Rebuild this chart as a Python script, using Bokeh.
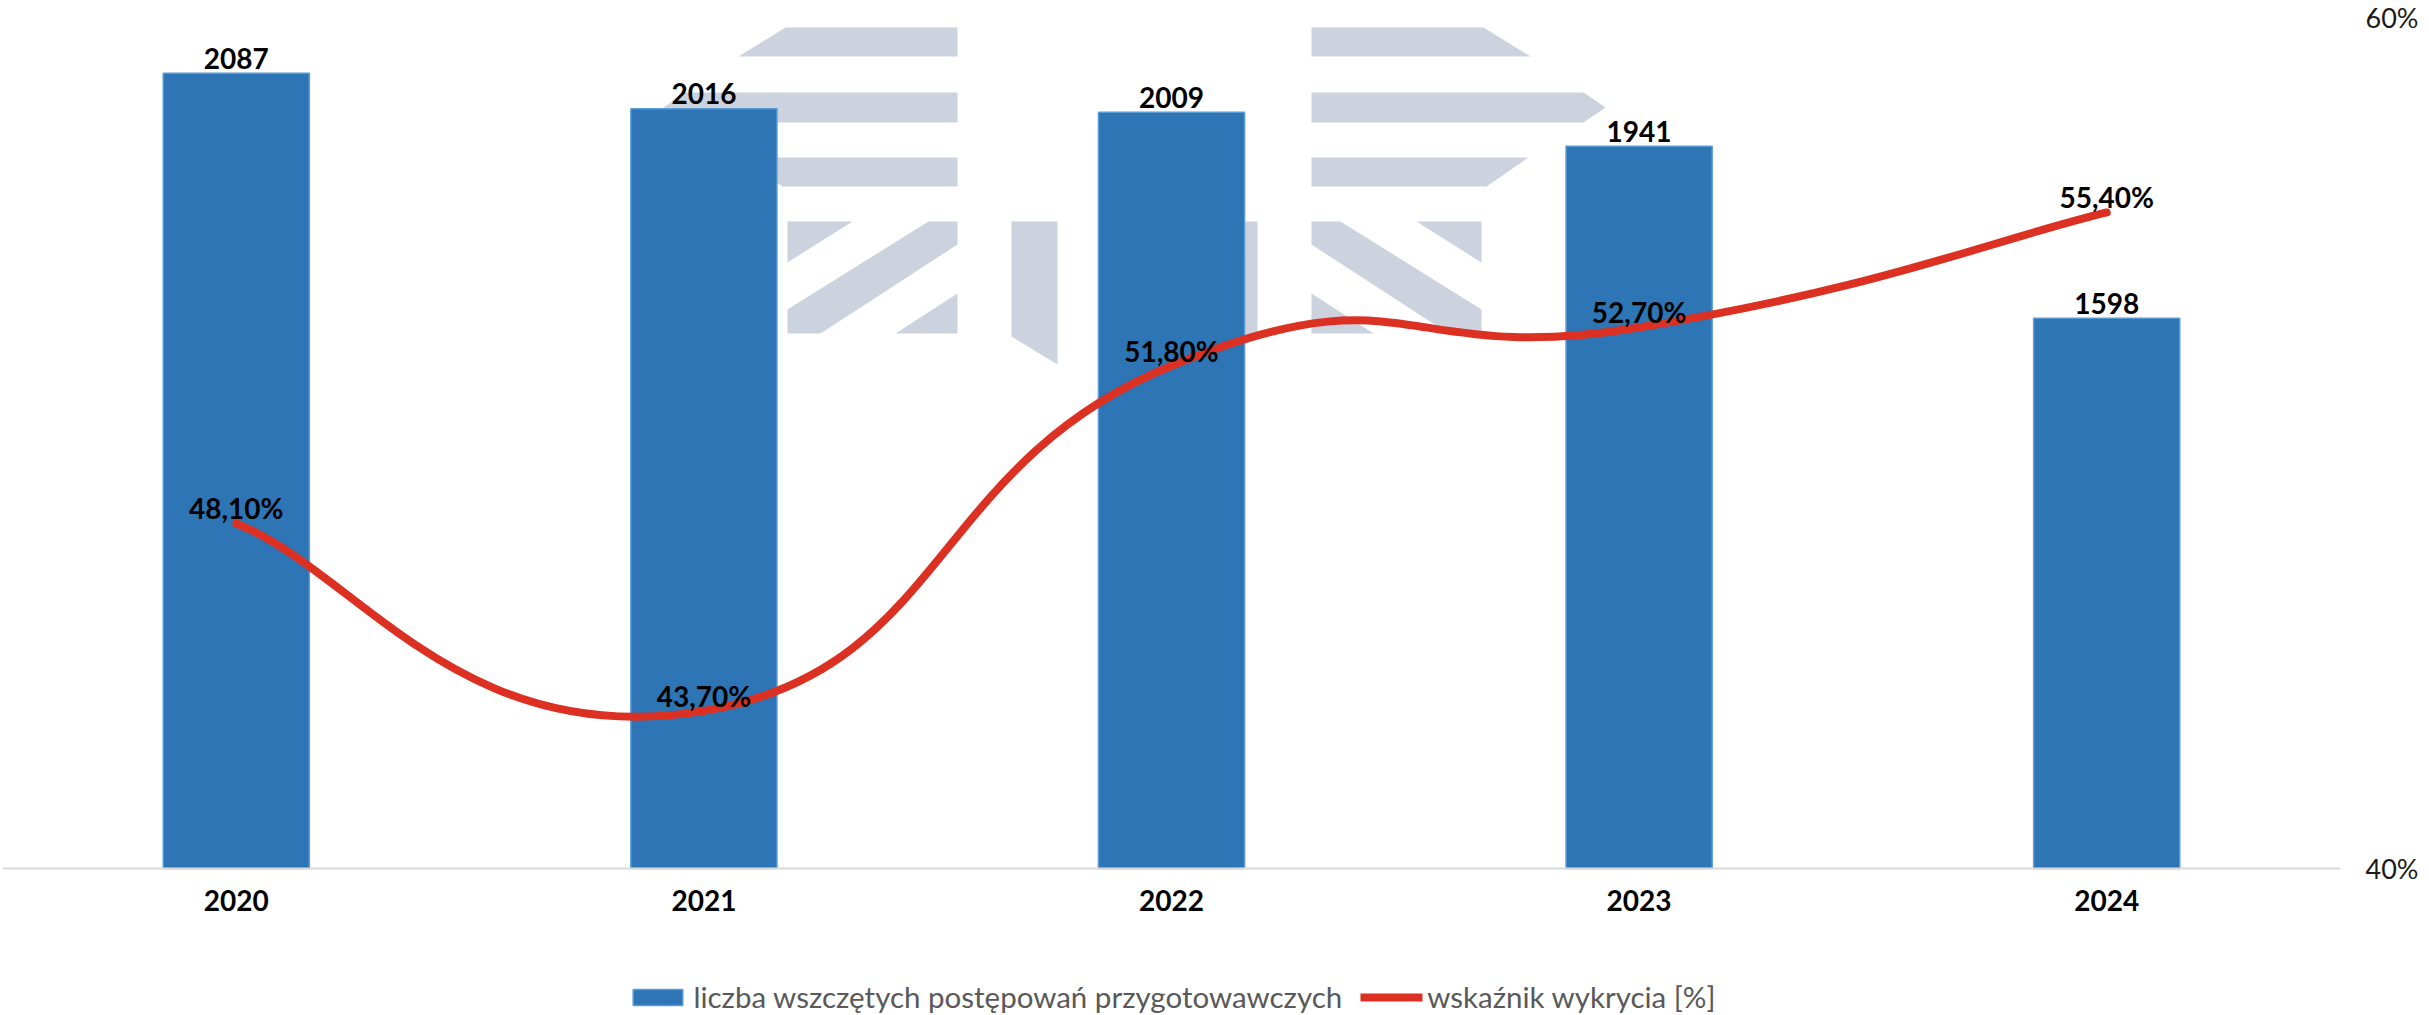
from bokeh.plotting import figure
from bokeh.models import (Range1d, LinearAxis, FixedTicker, Legend, LegendItem,
                          PolyAnnotation, ColumnDataSource, Span)
from bokeh.core.properties import value
from bokeh.embed import file_html
from bokeh.resources import INLINE

# ---- data -------------------------------------------------------------
years = ["2020", "2021", "2022", "2023", "2024"]
cases = [2087, 2016, 2009, 1941, 1598]          # liczba wszczętych postępowań
rate = [48.1, 43.7, 51.8, 52.7, 55.4]           # wskaźnik wykrycia [%]
count_axis = [500, 2200]                        # hidden left axis (bars)
pct_ticks = [40, 60]                            # right axis
pct_tick_labels = ["40%", "60%"]

BAR_LABEL = "liczba wszczętych postępowań przygotowawczych"
LINE_LABEL = "wskaźnik wykrycia [%]"

# ---- style / layout ------------------------------------------------------
BLUE = "#2e75b6"
BLUE_EDGE = "#5b9bd5"
RED = "#dc3023"
WM = "#ccd2de"
FONT = "Lato"
PLOT_H = 852      # px between baseline and top of value area
BELOW = 146       # px of frame kept below the baseline for year labels + legend
TOP = 16

xpos = [i + 0.5 for i in range(len(years))]
src = ColumnDataSource(dict(
    x=xpos, year=years, cases=cases, rate=rate,
    cases_lbl=[str(c) for c in cases],
    rate_lbl=[f"{r:.2f}".replace(".", ",") + "%" for r in rate],
))

c0, c1 = count_axis
r0, r1 = pct_ticks
p = figure(frame_width=2338, frame_height=PLOT_H + BELOW,
           x_range=Range1d(0, len(years)),
           y_range=Range1d(c0 - BELOW * (c1 - c0) / PLOT_H, c1),
           x_axis_location=None, y_axis_location=None,
           output_backend="svg", toolbar_location=None,
           min_border_left=2, min_border_top=TOP, min_border_bottom=0,
           min_border_right=73, background_fill_color="white",
           border_fill_color="white")
p.extra_y_ranges = {"pct": Range1d(r0 - BELOW * (r1 - r0) / PLOT_H, r1)}
p.xgrid.visible = False
p.ygrid.visible = False
p.outline_line_color = None

# ---- watermark (decorative logo, frame pixels from bottom-left) --------
FRAME_LEFT, FRAME_BOTTOM = 10, 8 + TOP + PLOT_H + BELOW
WM_DX, WM_DY = 6, 7
MIRROR = 2 * (1136 - FRAME_LEFT)
right_shapes = [
    [(1313, 28), (1485, 28), (1532, 57), (1313, 57)],
    [(1313, 93), (1585, 93), (1607, 108), (1585, 123), (1313, 123)],
    [(1313, 158), (1530, 158), (1488, 187), (1313, 187)],
    [(1313, 222), (1342, 222), (1483, 310), (1483, 334), (1450, 334), (1313, 245)],
    [(1418, 222), (1483, 222), (1483, 263)],
    [(1313, 294), (1313, 334), (1375, 334)],
    [(1259, 222), (1213, 222), (1213, 365), (1259, 337)],
]
for shp in right_shapes:
    pts = [(px - FRAME_LEFT, FRAME_BOTTOM - py) for px, py in shp]
    for mirror in (False, True):
        xs = [((MIRROR - a) if mirror else a) + WM_DX for a, _ in pts]
        ys = [b - WM_DY for _, b in pts]
        p.add_layout(PolyAnnotation(xs=xs, ys=ys, xs_units="screen", ys_units="screen",
                                    fill_color=WM, fill_alpha=1.0, line_color=None,
                                    level="underlay"))

# ---- category axis baseline + year labels ------------------------------
p.add_layout(Span(location=c0, dimension="width", line_color="#d9d9d9", line_width=2))
p.text(x="x", y=c0, text="year", source=src, text_align="center",
       text_baseline="alphabetic", y_offset=32, text_font=value(FONT),
       text_font_style="bold", text_font_size="28px", text_color="black")

# ---- bars -------------------------------------------------------------
bars = p.vbar(x="x", top="cases", bottom=c0, width=0.3125, source=src,
              fill_color=BLUE, line_color=BLUE_EDGE, line_width=1.5)

# ---- smoothed line (Bezier through the data points) ------------------
tension = 0.26
n = len(xpos)
seg = dict(x0=[], y0=[], x1=[], y1=[], cx0=[], cy0=[], cx1=[], cy1=[])
for i in range(n - 1):
    xa, ya = xpos[i], rate[i]
    xb, yb = xpos[i + 1], rate[i + 1]
    xp, yp = (xpos[i - 1], rate[i - 1]) if i > 0 else (xa, ya)
    xn, yn = (xpos[i + 2], rate[i + 2]) if i + 2 < n else (xb, yb)
    seg["x0"].append(xa); seg["y0"].append(ya)
    seg["x1"].append(xb); seg["y1"].append(yb)
    seg["cx0"].append(xa + tension * (xb - xp)); seg["cy0"].append(ya + tension * (yb - yp))
    seg["cx1"].append(xb - tension * (xn - xa)); seg["cy1"].append(yb - tension * (yn - ya))
curve = p.bezier(x0="x0", y0="y0", x1="x1", y1="y1", cx0="cx0", cy0="cy0",
                 cx1="cx1", cy1="cy1", source=ColumnDataSource(seg), y_range_name="pct",
                 line_color=RED, line_width=8, line_cap="round")

# ---- data labels -------------------------------------------------------
p.text(x="x", y="cases", text="cases_lbl", source=src, text_align="center",
       text_baseline="alphabetic", y_offset=-15, text_font=value(FONT),
       text_font_style="bold", text_font_size="28px", text_color="black")
p.text(x="x", y="rate", text="rate_lbl", source=src, y_range_name="pct",
       text_align="center", text_baseline="alphabetic", y_offset=-15,
       text_font=value(FONT), text_font_style="bold", text_font_size="28px",
       text_color="black")

# ---- right axis ------------------------------------------------------
ra = LinearAxis(y_range_name="pct", ticker=FixedTicker(ticks=pct_ticks))
ra.major_label_overrides = {t: l for t, l in zip(pct_ticks, pct_tick_labels)}
ra.axis_line_color = None
ra.major_tick_line_color = None
ra.minor_tick_line_color = None
ra.major_label_standoff = 19
ra.major_label_text_font = FONT
ra.major_label_text_font_size = "27px"
ra.major_label_text_color = "#1a1a1a"
p.add_layout(ra, "right")

# ---- legend ------------------------------------------------------------
legend = Legend(items=[LegendItem(label=BAR_LABEL, renderers=[bars]),
                       LegendItem(label=LINE_LABEL, renderers=[curve])],
                orientation="horizontal", location="bottom_center",
                glyph_width=62, glyph_height=20, label_standoff=5, spacing=18,
                padding=0, margin=0, border_line_color=None,
                background_fill_alpha=0, label_text_font=FONT,
                label_text_font_size="29.5px", label_text_color="#595959")
p.add_layout(legend)

open("out.html", "w").write(file_html(p, INLINE))
